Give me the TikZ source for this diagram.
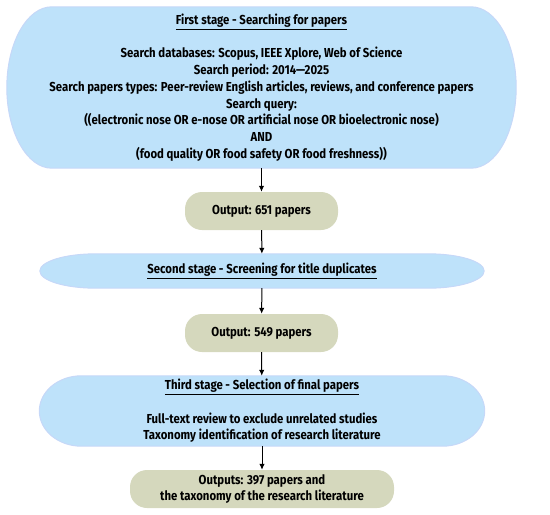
\documentclass[tikz,border=0pt]{standalone}
\usepackage{fontspec}
\setmainfont{Fira Sans}[FakeStretch=0.875]
\usetikzlibrary{arrows.meta,calc,backgrounds}

\definecolor{stageblue}{HTML}{BEE2FA}
\definecolor{stageedge}{HTML}{C6D8F8}
\definecolor{outkhaki}{HTML}{D5D8BD}

% blob with elliptic ends behind a stage node
\newcommand{\stageblob}[2]{%
  \filldraw[fill=stageblue, draw=stageedge, line width=1pt]
    let \p1=(#1.north west), \p2=(#1.south east), \n1={(\y1-\y2)/2} in
    (\x1+#2,\y1) -- (\x2-#2,\y1)
    arc[start angle=90, end angle=-90, x radius=#2, y radius=\n1]
    -- (\x1+#2,\y2)
    arc[start angle=270, end angle=90, x radius=#2, y radius=\n1] -- cycle;}

\begin{document}
\begin{tikzpicture}[
		every node/.style={align=center, inner sep=0pt,
			font=\bfseries\fontsize{13}{16.7}\selectfont},
		stage/.style={rectangle},
		outbox/.style={rectangle, fill=outkhaki, rounded corners=17pt,
			minimum width=153pt, minimum height=38pt},
		flow/.style={line width=1pt, -{Latex[length=6pt, width=5.5pt]}}
	]
  \useasboundingbox (0pt, 0pt) rectangle (550pt, -515pt);
  \node (stage_1) [stage, minimum width=509pt, minimum height=161pt] at (261.5pt, -87.5pt)
    {\underline{First stage - Searching for papers}\\[16.7pt]
     Search databases: Scopus, IEEE Xplore, Web of Science\\
     Search period: 2014—2025\\
     Search papers types: Peer-review English articles, reviews, and conference papers\\
     Search query:\\
     ((electronic nose OR e-nose OR artificial nose OR bioelectronic nose)\\
     AND\\
     (food quality OR food safety OR food freshness))};
  \node (out_1) [outbox] at (261.5pt, -211pt) {Output: 651 papers};
  \node (stage_2) [stage, minimum width=444pt, minimum height=34pt] at (262pt, -271pt)
    {\underline{Second stage - Screening for title duplicates}};
  \node (out_2) [outbox] at (261.5pt, -333pt) {Output: 549 papers};
  \node (stage_3) [stage, minimum width=445pt, minimum height=70pt] at (262pt, -411pt)
    {\underline{Third stage - Selection of final papers}\\[16.7pt]
     Full-text review to exclude unrelated studies\\
     Taxonomy identification of research literature};
  \node (out_3) [outbox, minimum width=264pt] at (262pt, -489pt)
    {Outputs: 397 papers and\\ the taxonomy of the research literature};
  \begin{scope}[on background layer]
    \stageblob{stage_1}{45pt}
    \stageblob{stage_2}{56pt}
    \stageblob{stage_3}{42pt}
  \end{scope}
  \draw [flow] (stage_1) -- (out_1);
  \draw [flow] (out_1) -- (stage_2);
  \draw [flow] (stage_2) -- (out_2);
  \draw [flow] (out_2) -- (stage_3);
  \draw [flow] (stage_3) -- (out_3);
\end{tikzpicture}
\end{document}
